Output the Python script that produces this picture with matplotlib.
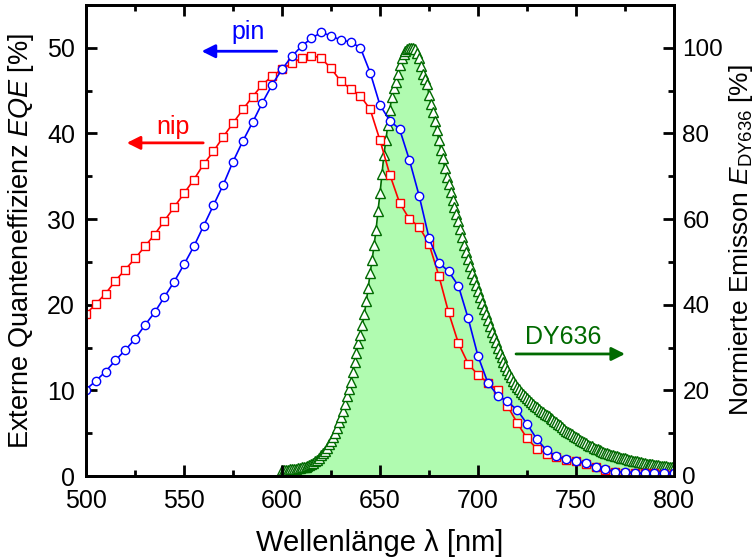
import numpy as np
import matplotlib
matplotlib.use("Agg")
import matplotlib.pyplot as plt
from matplotlib.ticker import MultipleLocator

plt.rcParams['font.family'] = ['Liberation Sans', 'DejaVu Sans']
plt.rcParams['mathtext.fontset'] = 'custom'
plt.rcParams['mathtext.rm'] = 'Liberation Sans'
plt.rcParams['mathtext.it'] = 'Liberation Sans:italic'

# EQE data, 500..800 nm in 5 nm steps
wl_eqe = np.arange(500, 801, 5)
eqe_nip = [18.9, 20.1, 21.3, 22.8, 24.1, 25.4, 26.8, 28.2, 29.8, 31.4,
           33.0, 34.6, 36.4, 37.9, 39.6, 41.2, 42.8, 44.3, 45.7, 46.7,
           47.5, 48.2, 48.8, 49.1, 48.8, 47.6, 46.1, 45.2, 44.4, 42.8,
           39.2, 35.2, 31.9, 30.0, 29.1, 27.1, 23.4, 19.1, 15.5, 13.1,
           11.8, 10.9, 10.0, 8.2, 6.2, 4.4, 3.2, 2.6, 2.2, 1.9,
           1.7, 1.4, 1.0, 0.7, 0.5, 0.4, 0.3, 0.3, 0.3, 0.2, 0.2]
eqe_pin = [10.1, 11.1, 12.2, 13.5, 14.7, 16.0, 17.6, 19.1, 20.9, 22.7,
           24.7, 26.8, 29.2, 31.6, 34.0, 36.7, 39.1, 41.3, 43.6, 45.7,
           47.5, 49.0, 50.2, 51.1, 51.8, 51.4, 50.9, 50.7, 50.0, 47.1,
           43.3, 41.5, 40.5, 36.9, 32.7, 27.8, 24.9, 23.9, 22.2, 18.4,
           14.0, 10.9, 9.4, 8.7, 7.7, 6.1, 4.3, 3.0, 2.3, 1.95,
           1.75, 1.5, 1.1, 0.8, 0.5, 0.5, 0.4, 0.3, 0.4, 0.3, 0.3]

# normalised DY636 emission, 600..800 nm in 1 nm steps
wl_em = np.arange(600, 801, 1)
em_dy636 = [1.4, 1.4, 1.5, 1.5, 1.6, 1.6, 1.7, 1.7, 1.8, 1.9,
            2.0, 2.1, 2.2, 2.4, 2.6, 2.8, 3.1, 3.4, 3.8, 4.3,
            4.9, 5.4, 5.9, 6.6, 7.4, 8.2, 9.1, 10.0, 11.2, 12.5,
            13.8, 15.2, 16.8, 18.6, 20.3, 22.0, 24.3, 26.6, 28.8, 31.0,
            33.0, 35.3, 37.8, 40.8, 44.0, 47.5, 50.5, 54.0, 57.5, 62.0,
            66.0, 70.5, 75.0, 78.5, 82.0, 85.5, 88.5, 90.5, 92.0, 94.0,
            96.0, 97.6, 98.6, 99.2, 99.7, 100.0, 100.0, 100.0, 99.8, 98.8,
            97.6, 95.8, 93.9, 92.8, 91.5, 89.0, 86.9, 85.1, 82.9, 80.8,
            78.5, 76.2, 74.3, 72.0, 69.9, 68.2, 66.4, 64.5, 62.8, 61.2,
            59.6, 57.7, 55.9, 54.0, 52.3, 50.7, 49.1, 47.5, 46.0, 44.6,
            43.2, 41.9, 40.5, 39.1, 37.8, 36.4, 35.0, 33.7, 32.4, 31.2,
            30.0, 28.8, 27.7, 26.6, 25.7, 24.8, 23.9, 23.1, 22.3, 21.6,
            20.9, 20.3, 19.7, 19.2, 18.7, 18.2, 17.7, 17.2, 16.8, 16.4,
            16.0, 15.6, 15.2, 14.9, 14.5, 14.2, 13.9, 13.6, 13.3, 12.9,
            12.6, 12.2, 11.8, 11.4, 11.0, 10.6, 10.3, 10.0, 9.7, 9.4,
            9.1, 8.8, 8.5, 8.2, 7.9, 7.6, 7.3, 7.1, 6.9, 6.6,
            6.4, 6.2, 6.0, 5.8, 5.6, 5.4, 5.3, 5.1, 5.0, 4.8,
            4.7, 4.6, 4.4, 4.3, 4.2, 4.1, 3.9, 3.8, 3.7, 3.6,
            3.5, 3.4, 3.3, 3.2, 3.1, 3.0, 2.9, 2.8, 2.8, 2.7,
            2.6, 2.5, 2.5, 2.4, 2.4, 2.3, 2.3, 2.2, 2.2, 2.1, 2.1]

fig = plt.figure(figsize=(7.56, 5.59), dpi=100)
ax = fig.add_axes([86/756, 1-476/559, 588/756, 471/559])
ax2 = ax.twinx()
ax.set_zorder(ax2.get_zorder() + 1)
ax.patch.set_visible(False)

green = '#006a00'
ax2.fill_between(wl_em, em_dy636, 0, color='#b0fbb0', lw=0)
ax2.plot(wl_em, em_dy636, color=green, lw=1.2, marker='^', ms=7,
         mfc='white', mec=green, mew=1.0)

ax.plot(wl_eqe, eqe_nip, color='red', lw=1.2, marker='s', ms=5.5,
        mfc='white', mec='red', mew=1.0)
ax.plot(wl_eqe, eqe_pin, color='blue', lw=1.2, marker='o', ms=6,
        mfc='white', mec='blue', mew=1.0)

ax.set_xlim(500, 800)
ax.set_ylim(0, 55)
ax2.set_ylim(0, 110)

fs = 18
ax.xaxis.set_major_locator(MultipleLocator(50))
ax.xaxis.set_minor_locator(MultipleLocator(25))
ax.yaxis.set_major_locator(MultipleLocator(10))
ax.yaxis.set_minor_locator(MultipleLocator(5))
ax2.yaxis.set_major_locator(MultipleLocator(20))
ax2.yaxis.set_minor_locator(MultipleLocator(10))
ax.tick_params(which='both', direction='in', width=2, top=True, labelsize=fs)
ax.tick_params(which='major', length=8)
ax.tick_params(which='minor', length=4)
ax.tick_params(axis='x', pad=9)
ax.tick_params(axis='y', right=False, pad=8)
ax2.tick_params(which='both', direction='in', width=2, labelsize=17.5, pad=6)
ax2.tick_params(which='major', length=8)
ax2.tick_params(which='minor', length=4)
for a in (ax, ax2):
    for s in a.spines.values():
        s.set_linewidth(2)

ax.set_xlabel('Wellenlänge λ [nm]', fontsize=21, labelpad=12)
ax.set_ylabel('Externe Quanteneffizienz $EQE$ [%]', fontsize=19.5, labelpad=8)
ax2.set_ylabel('Normierte Emisson $E_{\\mathrm{DY636}}$ [%]', fontsize=19, labelpad=3)

arr = dict(arrowstyle='-|>', lw=2, mutation_scale=20, shrinkA=0, shrinkB=0)
ax.annotate('', xy=(559, 49.6), xytext=(597.3, 49.6),
            arrowprops=dict(arr, color='blue'))
ax.text(582.7, 51.9, 'pin', color='blue', fontsize=fs, ha='center', va='center')
ax.annotate('', xy=(520.8, 38.9), xytext=(559.8, 38.9),
            arrowprops=dict(arr, color='red'))
ax.text(544.5, 40.8, 'nip', color='red', fontsize=fs, ha='center', va='center')
ax2.annotate('', xy=(775, 28.5), xytext=(719.4, 28.5),
             arrowprops=dict(arr, color=green))
ax2.text(743.5, 32.4, 'DY636', color=green, fontsize=fs, ha='center', va='center')

fig.savefig('out.png', dpi=100)
